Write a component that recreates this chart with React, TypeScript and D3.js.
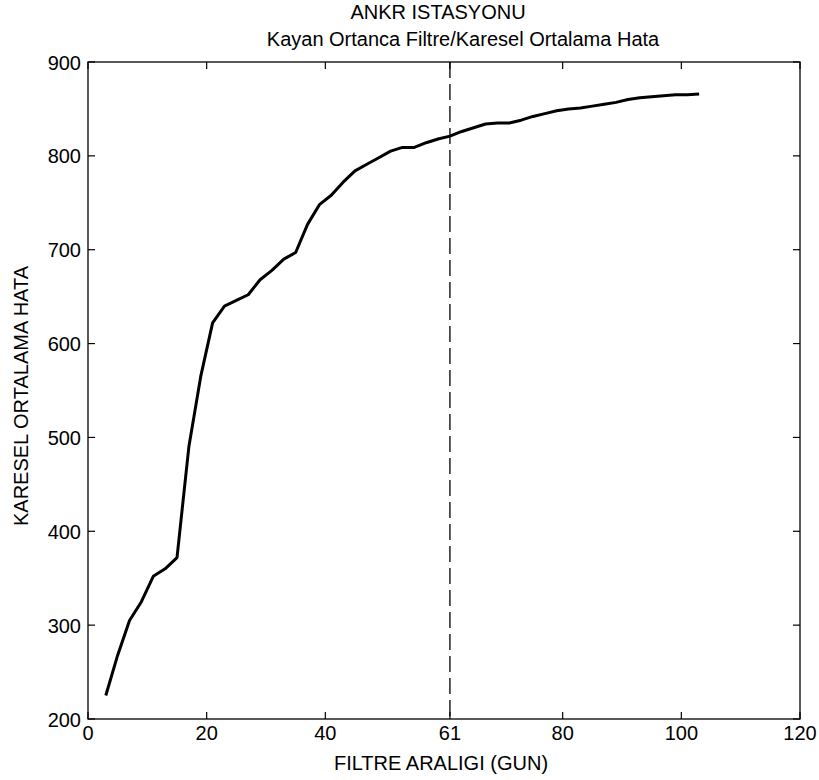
import React from "react";
import * as d3 from "d3";

// Filter window length (days) and the resulting RMS error
const windowDays = [3, 5, 7, 9, 11, 13, 15, 17, 19, 21, 23, 25, 27, 29, 31, 33, 35, 37, 39, 41, 43, 45, 47, 49, 51, 53, 55, 57, 59, 61, 63, 65, 67, 69, 71, 73, 75, 77, 79, 81, 83, 85, 87, 89, 91, 93, 95, 97, 99, 101, 103];
const rmsError = [225, 268, 305, 325, 352, 360, 372, 490, 565, 622, 640, 646, 652, 668, 678, 690, 697, 727, 748, 758, 772, 784, 791, 798, 805, 809, 809, 814, 818, 821, 826, 830, 834, 835, 835, 838, 842, 845, 848, 850, 851, 853, 855, 857, 860, 862, 863, 864, 865, 865, 866];

const xTicks = [0, 20, 40, 61, 80, 100, 120];
const yTicks = [200, 300, 400, 500, 600, 700, 800, 900];
const cutoffDay = 61;

const titleLines = ["ANKR ISTASYONU", "Kayan Ortanca Filtre/Karesel Ortalama Hata"];
const xLabel = "FILTRE ARALIGI (GUN)";
const yLabel = "KARESEL ORTALAMA HATA";

const W = 819;
const H = 780;
const left = 88;
const right = 800;
const top = 62;
const bottom = 719;
const tickLen = 7;
const font = "'Liberation Sans', Arial, Helvetica, sans-serif";

export default function App() {
  const x = d3.scaleLinear().domain([0, 120]).range([left, right]);
  const y = d3.scaleLinear().domain([200, 900]).range([bottom, top]);

  const pts: [number, number][] = windowDays.map((d, i) => [d, rmsError[i]]);
  const line = d3
    .line<[number, number]>()
    .x((d) => x(d[0]))
    .y((d) => y(d[1]));

  return (
    <div style={{ position: "absolute", left: 0, top: 0 }}>
      <svg width={W} height={H} style={{ display: "block", background: "#fff" }} fontFamily={font}>
        <rect x={0} y={0} width={W} height={H} fill="#fff" />

        {/* title */}
        <text x={438} y={19} fontSize={20} textAnchor="middle" fill="#000">
          {titleLines[0]}
        </text>
        <text x={463} y={46} fontSize={20} textAnchor="middle" fill="#000">
          {titleLines[1]}
        </text>

        {/* cutoff marker */}
        <line
          x1={x(cutoffDay)}
          x2={x(cutoffDay)}
          y1={y(900)}
          y2={y(200)}
          stroke="#000"
          strokeWidth={1.3}
          strokeDasharray="16 6"
        />

        {/* data curve */}
        <path d={line(pts) || ""} fill="none" stroke="#000" strokeWidth={3} strokeLinejoin="round" />

        {/* axes box */}
        <rect x={left} y={top} width={right - left} height={bottom - top} fill="none" stroke="#000" strokeWidth={1.3} />

        {/* x ticks (bottom and top, inward) */}
        {xTicks.map((t) => (
          <g key={"xt" + t}>
            <line x1={x(t)} x2={x(t)} y1={bottom} y2={bottom - tickLen} stroke="#000" strokeWidth={1.2} />
            <line x1={x(t)} x2={x(t)} y1={top} y2={top + tickLen} stroke="#000" strokeWidth={1.2} />
            <text x={x(t)} y={740} fontSize={20} textAnchor="middle" fill="#000">
              {t}
            </text>
          </g>
        ))}

        {/* y ticks (left and right, inward) */}
        {yTicks.map((t) => (
          <g key={"yt" + t}>
            <line x1={left} x2={left + tickLen} y1={y(t)} y2={y(t)} stroke="#000" strokeWidth={1.2} />
            <line x1={right} x2={right - tickLen} y1={y(t)} y2={y(t)} stroke="#000" strokeWidth={1.2} />
            <text x={81} y={y(t) + 7.5} fontSize={20} textAnchor="end" fill="#000">
              {t}
            </text>
          </g>
        ))}

        {/* axis labels */}
        <text x={441} y={770} fontSize={20} textAnchor="middle" fill="#000">
          {xLabel}
        </text>
        <text
          transform={`translate(28, 396) rotate(-90)`}
          fontSize={20}
          textAnchor="middle"
          fill="#000"
        >
          {yLabel}
        </text>
      </svg>
    </div>
  );
}
